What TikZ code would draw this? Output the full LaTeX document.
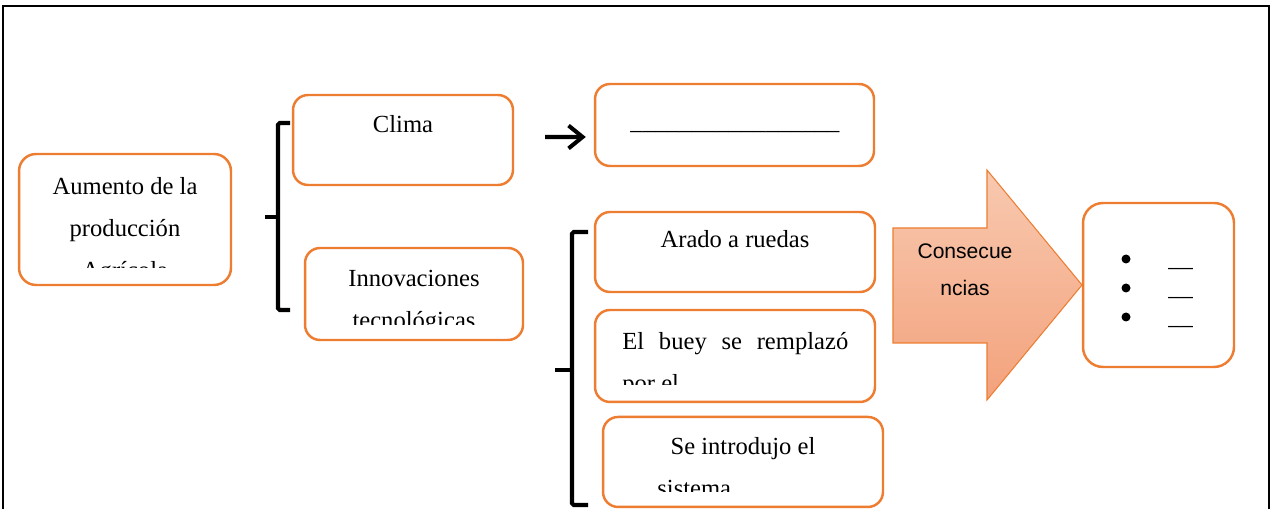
\documentclass[tikz,border=0pt]{standalone}
\usepackage{fontspec}
\setmainfont{Liberation Serif}
\newfontfamily\arialfont{Liberation Sans}
\usepackage{tikz}
\usetikzlibrary{arrows.meta,positioning}
\definecolor{boxorange}{RGB}{237,125,49}
\definecolor{peachtop}{RGB}{248,201,176}
\definecolor{peachbot}{RGB}{243,162,124}

\begin{document}
\begin{tikzpicture}[
    x=0.02cm, y=-0.02cm,
    node distance=2.08cm,
    font=\fontsize{14}{17}\selectfont,
    box/.style={
		rectangle,
		rounded corners=0.3cm,
		draw=boxorange,
		line width=1.4pt,
		fill=white
	},
	txt/.style={
		inner sep=0pt,
		anchor=base
	},
	dot/.style={
		circle,
		fill=black,
		inner sep=0pt,
		minimum size=0.18cm
	},
	bracket/.style={
		line width=2.3pt,
		rounded corners=1pt
	},
	frame/.style={
		line width=1.2pt
	}
  ]

\useasboundingbox (0,0) rectangle (1275,509);

% // the frame, open at the bottom
\draw [frame] (3,509) -- (3,6) -- (1269,6) -- (1269,509);

% // left box
\node [box, rounded corners=0.34cm, minimum width=4.24cm, minimum height=2.62cm] (aumento) at (125,219.5) {};
\begin{scope}
 \clip (19,154) rectangle (231,268);
 \node [txt] (aum1) at (125,195) {Aumento de la};
 \node [txt] (aum2) at (125,237) {producción};
 \node [txt] (aum3) at (125,279) {Agrícola};
\end{scope}

% // first bracket
\draw [bracket] (290,123) -- (278,123) -- (278,310) -- (290,310);
\draw [bracket] (278,217) -- (265,217);

\node [box, minimum width=4.4cm, minimum height=1.8cm] (clima) at (403,140) {};
\node [txt] (climatxt) at (403,133) {Clima};

\node [box, minimum width=4.36cm, minimum height=1.84cm] (innov) at (414,294) {};
\begin{scope}
 \clip (305,248) rectangle (523,325);
 \node [txt] (innov1) at (414,287) {Innovaciones};
 \node [txt] (innov2) at (414,329) {tecnológicas};
\end{scope}

% // answer box for the climate
\node [box, minimum width=5.58cm, minimum height=1.64cm] (blank) at (734.5,125) {};
\node [txt] (blankline) at (735,130) {\_\_\_\_\_\_\_\_\_\_\_\_\_\_\_\_\_};
\draw [line width=2.3pt, -{Straight Barb[length=8pt,width=13pt]}] ([xshift=0.62cm,yshift=0.06cm]clima.east) -- ([xshift=-0.16cm,yshift=-0.24cm]blank.west);

% // second bracket
\draw [bracket] (588,232) -- (572,232) -- (572,505) -- (588,505);
\draw [bracket] (572,370) -- (555,370);

\node [box, minimum width=5.6cm, minimum height=1.6cm] (arado) at (735,252) {};
\node [txt] (aradotxt) at (735,248) {Arado a ruedas};

\node [box, below of=arado, minimum width=5.6cm, minimum height=1.84cm] (buey) {};
\begin{scope}
 \clip (595,310) rectangle (875,385);
 \node [txt, anchor=base west] (buey1) at (622,350) {\makebox[4.52cm][s]{El buey se remplazó}};
 \node [txt, anchor=base west] (buey2) at (622,392) {por el};
\end{scope}

\node [box, below of=buey, xshift=0.16cm, yshift=-0.04cm, minimum width=5.6cm, minimum height=1.8cm] (sistema) {};
\begin{scope}
 \clip (603,417) rectangle (883,492);
 \node [txt] (sist1) at (743,455) {Se introdujo el};
 \node [txt, anchor=base west] (sist2) at (657,497) {sistema};
\end{scope}

% // the big arrow
\path [draw=boxorange, line width=0.6pt, top color=peachtop, bottom color=peachbot]
  (893,228) -- (987,228) -- (987,170) -- (1082,285) -- (987,400) -- (987,343) -- (893,343) -- cycle;
\node [txt, font=\arialfont\fontsize{12}{14}\selectfont] (cons1) at (965,259) {Consecue};
\node [txt, font=\arialfont\fontsize{12}{14}\selectfont] (cons2) at (965,296) {ncias};

% // consequences
\node [box, rounded corners=0.4cm, minimum width=3.02cm, minimum height=3.28cm] (conseq) at (1158.5,285) {};
\node [dot] (dot1) at (1126,259) {};
\node [dot] (dot2) at (1126,288) {};
\node [dot] (dot3) at (1126,317) {};
\node [txt, anchor=base west] (item1) at (1168,267) {\_\_};
\node [txt, anchor=base west] (item2) at (1168,296) {\_\_};
\node [txt, anchor=base west] (item3) at (1168,325) {\_\_};

\end{tikzpicture}
\end{document}
